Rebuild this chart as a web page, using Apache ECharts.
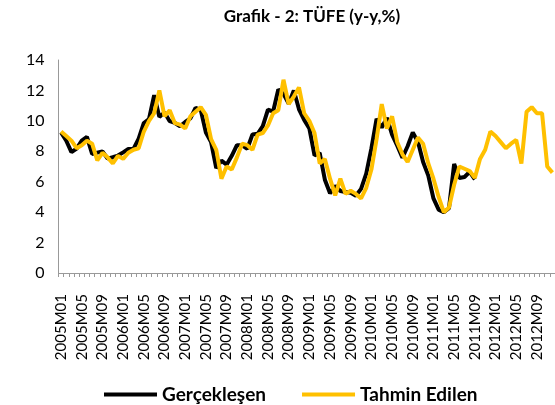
<!DOCTYPE html>
<html>
<head>
<meta charset="utf-8">
<script src="https://cdn.jsdelivr.net/npm/echarts@6/dist/echarts.min.js"></script>
<style>
    html, body { margin: 0; padding: 0; background: #fff; }
    #main { width: 555px; height: 405px; }
</style>
</head>
<body>
<div id="main"></div>
<script>
// aylar: 2005M01 .. 2012M12
var years = [2005, 2006, 2007, 2008, 2009, 2010, 2011, 2012];
var months = [];
years.forEach(function (y) {
    for (var m = 1; m <= 12; m++) {
        months.push(y + 'M' + (m < 10 ? '0' + m : m));
    }
});

var gerceklesen = [
    9.24, 8.69, 7.94, 8.18, 8.70, 8.95, 7.82, 7.91, 7.99, 7.52, 7.61, 7.72,
    7.93, 8.15, 8.16, 8.83, 9.86, 10.12, 11.69, 10.26, 10.55, 9.98, 9.86, 9.65,
    9.93, 10.16, 10.86, 10.72, 9.23, 8.60, 6.90, 7.39, 7.12, 7.70, 8.40, 8.39,
    8.17, 9.10, 9.15, 9.66, 10.74, 10.61, 12.06, 11.77, 11.13, 11.99, 10.76, 10.06,
    9.50, 7.73, 7.89, 6.13, 5.24, 5.73, 5.39, 5.33, 5.27, 5.08, 5.53, 6.53,
    8.19, 10.13, 9.56, 10.19, 9.10, 8.37, 7.58, 8.33, 9.24, 8.62, 7.29, 6.40,
    4.90, 4.16, 3.99, 4.26, 7.17, 6.24, 6.31, 6.65, 6.15
];

var tahmin = [
    9.3, 9.0, 8.7, 8.2, 8.4, 8.7, 8.5, 7.4, 7.9, 7.6, 7.2, 7.7,
    7.5, 7.9, 8.1, 8.2, 9.3, 10.0, 10.5, 12.0, 10.3, 10.7, 9.85, 9.75,
    9.5, 10.3, 10.6, 10.9, 10.4, 8.8, 8.1, 6.2, 7.0, 6.8, 7.6, 8.5,
    8.4, 8.1, 9.1, 9.2, 9.7, 10.5, 10.7, 12.7, 11.1, 11.6, 12.2, 10.5,
    10.0, 9.2, 7.2, 7.5, 6.2, 5.1, 6.2, 5.2, 5.4, 5.2, 4.9, 5.6,
    6.8, 8.8, 11.1, 9.5, 10.3, 8.6, 7.8, 7.3, 8.1, 8.9, 8.5, 7.2,
    6.2, 5.0, 4.0, 4.3, 5.8, 7.0, 6.85, 6.7, 6.25, 7.5, 8.1, 9.3,
    9.0, 8.6, 8.2, 8.5, 8.75, 7.2, 10.6, 10.9, 10.5, 10.5, 7.0, 6.6
];

var yTicks = [0, 2, 4, 6, 8, 10, 12, 14];

var chart = echarts.init(document.getElementById('main'));
var option = {
    animation: false,
    title: {
        text: 'Grafik - 2: TÜFE (y-y,%)',
        left: 307,
        textAlign: 'center',
        top: 3,
        textStyle: {
            fontFamily: 'Lato',
            fontWeight: 'bold',
            fontSize: 17,
            color: '#000'
        }
    },
    legend: {
        data: ['Gerçekleşen', 'Tahmin Edilen'],
        left: 99,
        top: 380,
        icon: 'rect',
        itemWidth: 53,
        itemHeight: 4,
        itemGap: 36,
        textStyle: {
            fontFamily: 'Lato',
            fontWeight: 'bold',
            fontSize: 19,
            color: '#000'
        }
    },
    grid: {
        left: 58.5,
        right: -6.5,
        top: 60,
        bottom: 132,
        containLabel: false
    },
    xAxis: {
        type: 'category',
        data: months,
        boundaryGap: true,
        axisLine: { lineStyle: { color: '#999', width: 1 } },
        axisTick: { show: true, interval: 0, length: 4, lineStyle: { color: '#999' } },
        axisLabel: {
            interval: 3,
            rotate: 90,
            margin: 21,
            fontFamily: 'Lato',
            fontSize: 15,
            color: '#000'
        },
        splitLine: { show: false }
    },
    yAxis: {
        type: 'value',
        min: yTicks[0],
        max: yTicks[yTicks.length - 1],
        interval: 2,
        axisLine: { show: true, lineStyle: { color: '#999', width: 1 } },
        axisTick: { show: false },
        axisLabel: {
            margin: 14,
            fontFamily: 'Lato',
            fontSize: 16,
            color: '#000'
        },
        splitLine: { show: false }
    },
    series: [
        {
            name: 'Gerçekleşen',
            type: 'line',
            data: gerceklesen,
            symbol: 'none',
            color: '#000000',
            lineStyle: { width: 4, color: '#000000' }
        },
        {
            name: 'Tahmin Edilen',
            type: 'line',
            data: tahmin,
            symbol: 'none',
            color: '#FFC000',
            lineStyle: { width: 4, color: '#FFC000' }
        }
    ]
};
chart.setOption(option);
</script>
</body>
</html>
